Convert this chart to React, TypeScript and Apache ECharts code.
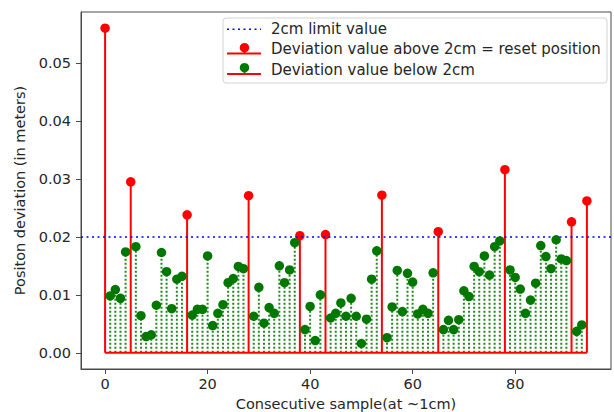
import React, { useEffect, useRef } from "react";
import * as echarts from "echarts";

// ---- data ----
const redX = [0, 5, 16, 28, 38, 43, 54, 65, 78, 91, 94];
const redY = [0.056, 0.0295, 0.0238, 0.0271, 0.0202, 0.0204, 0.0272, 0.0209, 0.0316, 0.0226, 0.0262];

const greenX = [
  1, 2, 3, 4, 6, 7, 8, 9, 10, 11, 12, 13, 14, 15, 17, 18, 19, 20, 21, 22, 23, 24, 25, 26, 27,
  29, 30, 31, 32, 33, 34, 35, 36, 37, 39, 40, 41, 42, 44, 45, 46, 47, 48, 49, 50, 51, 52, 53,
  55, 56, 57, 58, 59, 60, 61, 62, 63, 64, 66, 67, 68, 69, 70, 71, 72, 73, 74, 75, 76, 77,
  79, 80, 81, 82, 83, 84, 85, 86, 87, 88, 89, 90, 92, 93,
];
const greenY = [
  0.0098, 0.0109, 0.0094, 0.0174, 0.0183, 0.0064, 0.0028, 0.0031, 0.0082, 0.0173, 0.014, 0.0076,
  0.0127, 0.0132, 0.0065, 0.0075, 0.0075, 0.0167, 0.0047, 0.0068, 0.0083, 0.0121, 0.0128, 0.0149,
  0.0145, 0.0063, 0.0113, 0.0051, 0.0078, 0.0068, 0.015, 0.0121, 0.0143, 0.019, 0.004, 0.008,
  0.0021, 0.01, 0.006, 0.0068, 0.0086, 0.0063, 0.0094, 0.0063, 0.0016, 0.0058, 0.0127, 0.0176,
  0.0026, 0.0079, 0.0142, 0.0071, 0.0137, 0.0122, 0.0067, 0.0075, 0.0068, 0.0138, 0.004, 0.0056,
  0.004, 0.0057, 0.0107, 0.0097, 0.0149, 0.014, 0.0167, 0.0134, 0.0183, 0.0193, 0.0143, 0.013,
  0.011, 0.0068, 0.0091, 0.012, 0.0185, 0.0166, 0.0145, 0.0195, 0.0162, 0.0159, 0.0037, 0.0048,
];
const limitValue = 0.02;
const xTicks = [0, 20, 40, 60, 80];
const yTicks = [0, 0.01, 0.02, 0.03, 0.04, 0.05];
const xTitle = "Consecutive sample(at ~1cm)";
const yTitle = "Positon deviation (in meters)";
const legendLabels = [
  "2cm limit value",
  "Deviation value above 2cm = reset position",
  "Deviation value below 2cm",
];

// axis limits (matplotlib-style 5% margins)
const xMin = -4.7;
const xMax = 98.7;
const yMin = -0.0028;
const yMax = 0.0588;

const FONT = "DejaVu Sans";
const FS = 14.5;
const LFS = 15;
const SPINE = "#4a4a4a";
const GREEN_STEM = "#1f8a1f";
const GREEN_MARK = "#007800";

export default function App() {
  const ref = useRef<HTMLDivElement>(null);
  useEffect(() => {
    if (!ref.current) return;
    const chart = echarts.init(ref.current, undefined, { renderer: "svg" });
    const redData = redX.map((x, i) => [x, redY[i]]);
    const greenData = greenX.map((x, i) => [x, greenY[i]]);
    const allX = [...redX, ...greenX];
    const baseData = [
      [Math.min(...allX), 0],
      [Math.max(...allX), 0],
    ];
    const stem = (color: string, width: number, dash?: number[]) => (params: any, api: any) => {
      const x = api.value(0);
      const y = api.value(1);
      const p0 = api.coord([x, 0]);
      const p1 = api.coord([x, y]);
      return {
        type: "line",
        shape: { x1: p0[0], y1: p0[1], x2: p1[0], y2: p1[1] },
        style: { stroke: color, lineWidth: width, lineDash: dash, lineCap: "butt" },
      };
    };
    const axisText = { fontFamily: FONT, fontSize: FS, color: "#262626" };
    const option: any = {
      animation: false,
      backgroundColor: "#ffffff",
      grid: {
        left: 81,
        right: 3,
        top: 12,
        bottom: 43,
        show: true,
        borderColor: SPINE,
        borderWidth: 1,
        backgroundColor: "transparent",
        outerBoundsMode: "none",
        containLabel: false,
      },
      xAxis: {
        type: "value",
        min: xMin,
        max: xMax,
        splitLine: { show: false },
        axisLine: { show: true, onZero: false, lineStyle: { color: SPINE, width: 1 } },
        axisTick: { show: true, customValues: xTicks, length: 5, lineStyle: { color: SPINE, width: 1 } },
        axisLabel: { customValues: xTicks, margin: 7, ...axisText },
        name: xTitle,
        nameLocation: "middle",
        nameGap: 27,
        nameTextStyle: axisText,
      },
      yAxis: {
        type: "value",
        min: yMin,
        max: yMax,
        splitLine: { show: false },
        axisLine: { show: true, onZero: false, lineStyle: { color: SPINE, width: 1 } },
        axisTick: { show: true, customValues: yTicks, length: 5, lineStyle: { color: SPINE, width: 1 } },
        axisLabel: {
          customValues: yTicks,
          formatter: (v: number) => v.toFixed(2),
          margin: 10,
          ...axisText,
        },
        name: yTitle,
        nameLocation: "middle",
        nameGap: 52,
        nameRotate: 90,
        nameTextStyle: axisText,
      },
      series: [
        {
          type: "custom",
          name: "redStems",
          data: redData,
          renderItem: stem("#ff0000", 2),
          encode: { x: 0, y: 1 },
          silent: true,
          z: 2,
        },
        {
          type: "scatter",
          name: "redMarkers",
          data: redData,
          symbol: "circle",
          symbolSize: 9.5,
          itemStyle: { color: "#ff0000", opacity: 1 },
          silent: true,
          z: 3,
        },
        {
          type: "custom",
          name: "greenStems",
          data: greenData,
          renderItem: stem(GREEN_STEM, 2, [2, 2]),
          encode: { x: 0, y: 1 },
          silent: true,
          z: 4,
        },
        {
          type: "scatter",
          name: "greenMarkers",
          data: greenData,
          symbol: "circle",
          symbolSize: 9.5,
          itemStyle: { color: GREEN_MARK, opacity: 1 },
          silent: true,
          z: 5,
        },
        {
          type: "line",
          name: "baseline",
          data: baseData,
          symbol: "none",
          lineStyle: { color: "#ff0000", width: 2 },
          silent: true,
          z: 6,
          markLine: {
            silent: true,
            symbol: "none",
            label: { show: false },
            lineStyle: { color: "#0000ff", width: 1.5, type: [2, 3.5] },
            data: [{ yAxis: limitValue }],
          },
        },
      ],
      graphic: [
        {
          type: "rect",
          shape: { x: 223, y: 18, width: 384, height: 65, r: 3 },
          style: { fill: "rgba(255,255,255,0.85)", stroke: "#d4d4d4", lineWidth: 1 },
          z: 100,
        },
        {
          type: "line",
          shape: { x1: 227, y1: 29.3, x2: 261, y2: 29.3 },
          style: { stroke: "#0000ff", lineWidth: 1.5, lineDash: [2, 3.5] },
          z: 101,
        },
        {
          type: "line",
          shape: { x1: 227, y1: 53.5, x2: 261, y2: 53.5 },
          style: { stroke: "#ff0000", lineWidth: 2 },
          z: 101,
        },
        {
          type: "line",
          shape: { x1: 244.5, y1: 47.7, x2: 244.5, y2: 53.5 },
          style: { stroke: "#ff0000", lineWidth: 2 },
          z: 101,
        },
        { type: "circle", shape: { cx: 244.5, cy: 47.7, r: 4.75 }, style: { fill: "#ff0000" }, z: 102 },
        {
          type: "line",
          shape: { x1: 227, y1: 74, x2: 261, y2: 74 },
          style: { stroke: "#ff0000", lineWidth: 2 },
          z: 101,
        },
        {
          type: "line",
          shape: { x1: 244.5, y1: 67.7, x2: 244.5, y2: 74 },
          style: { stroke: GREEN_STEM, lineWidth: 2, lineDash: [2, 2] },
          z: 101,
        },
        { type: "circle", shape: { cx: 244.5, cy: 67.7, r: 4.75 }, style: { fill: GREEN_MARK }, z: 102 },
        ...legendLabels.map((t, i) => ({
          type: "text",
          x: 271,
          y: [29.3, 49.3, 70][i],
          style: {
            text: t,
            fontFamily: FONT,
            fontSize: LFS,
            fill: "#262626",
            verticalAlign: "middle",
            align: "left",
          },
          z: 103,
        })),
      ],
    };
    chart.setOption(option);
    return () => chart.dispose();
  }, []);
  return (
    <div
      ref={ref}
      style={{ position: "fixed", left: 0, top: 0, width: 614, height: 412, background: "#fff" }}
    />
  );
}
